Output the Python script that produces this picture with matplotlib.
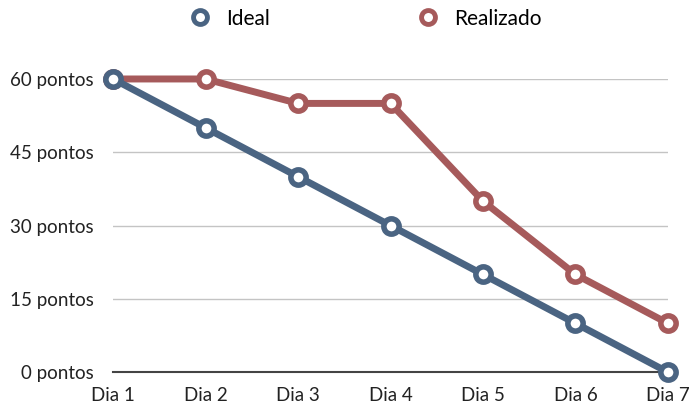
import matplotlib
matplotlib.use("Agg")
import matplotlib.pyplot as plt
from matplotlib.lines import Line2D

plt.rcParams["font.family"] = ["Lato", "DejaVu Sans"]

dias = ["Dia 1", "Dia 2", "Dia 3", "Dia 4", "Dia 5", "Dia 6", "Dia 7"]
ideal = [60, 50, 40, 30, 20, 10, 0]
realizado = [60, 60, 55, 55, 35, 20, 10]
y_ticks = [0, 15, 30, 45, 60]
y_labels = ["0 pontos", "15 pontos", "30 pontos", "45 pontos", "60 pontos"]

azul = "#4a6482"
vermelho = "#a65a5b"

fig = plt.figure(figsize=(6.9, 4.05), dpi=100)
ax = fig.add_axes([0.164, 0.081, 0.804, 0.724])

x = list(range(len(dias)))
for serie, cor, z in [(realizado, vermelho, 3), (ideal, azul, 4)]:
    ax.plot(x, serie, color=cor, lw=5, marker="o", ms=11, mfc="white",
            mec=cor, mew=4, clip_on=False, zorder=z, solid_joinstyle="round")

ax.set_xlim(0, 6)
ax.set_ylim(0, 60)
ax.set_xticks(x)
ax.set_xticklabels(dias, fontsize=13.5, color="#222222")
ax.set_yticks(y_ticks)
ax.set_yticklabels(y_labels, fontsize=13.5, color="#222222")
ax.tick_params(length=0)
ax.tick_params(axis="y", pad=14)
ax.tick_params(axis="x", pad=11)
ax.grid(axis="y", color="#c4c4c4", lw=1)
ax.set_axisbelow(True)
for s in ["top", "right", "left"]:
    ax.spines[s].set_visible(False)
ax.spines["bottom"].set_color("#444444")
ax.spines["bottom"].set_linewidth(1.5)

handles = [Line2D([], [], color=azul, marker="o", ms=10, mfc="white", mec=azul, mew=3.5, lw=0),
           Line2D([], [], color=vermelho, marker="o", ms=10, mfc="white", mec=vermelho, mew=3.5, lw=0)]
fig.legend(handles, ["Ideal", "Realizado"], loc="upper center", bbox_to_anchor=(0.526, 1.025),
           ncol=2, frameon=False, fontsize=15, columnspacing=6.85, handletextpad=0.5,
           handlelength=1.5)

fig.savefig("out.png", dpi=100)
